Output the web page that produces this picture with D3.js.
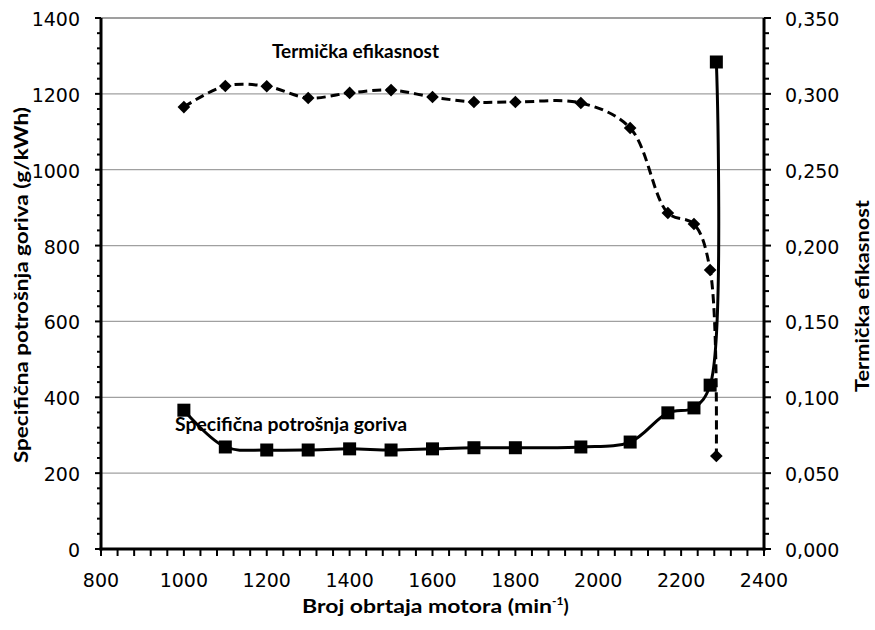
<!DOCTYPE html>
<html>
<head>
<meta charset="utf-8">
<script src="https://cdn.jsdelivr.net/npm/d3@7"></script>
<style>
  html, body { margin: 0; padding: 0; background: #fff; }
  svg { display: block; }
</style>
</head>
<body>
<svg id="chart" width="875" height="630"></svg>
<script>
// ---- data ----
const rpm = [1000, 1100, 1200, 1300, 1400, 1500, 1600, 1700, 1800, 1958, 2077, 2168, 2231, 2270, 2285];
const fuelConsumption = [366, 269, 261, 261, 264, 261, 264, 267, 267, 269, 282, 359, 372, 432, 1284];
const thermalEfficiency = [0.2913, 0.3052, 0.3050, 0.2973, 0.3006, 0.3025, 0.2979, 0.2946, 0.2946, 0.2940, 0.2775, 0.2215, 0.2142, 0.1839, 0.0613];
const xTicks = [800, 1000, 1200, 1400, 1600, 1800, 2000, 2200, 2400];
const yLeftTicks = [0, 200, 400, 600, 800, 1000, 1200, 1400];
const yRightTicks = [0, 0.05, 0.10, 0.15, 0.20, 0.25, 0.30, 0.35];
const xTitle = "Broj obrtaja motora (min";
const yLeftTitle = "Specifična potrošnja goriva (g/kWh)";
const yRightTitle = "Termička efikasnost";
const fuelLabel = "Specifična potrošnja goriva";
const thermalLabel = "Termička efikasnost";

// ---- layout ----
const L = 101, R = 764, T = 18, B = 549;
const svg = d3.select("#chart");
const x = d3.scaleLinear().domain([800, 2400]).range([L, R]);
const yL = d3.scaleLinear().domain([0, 1400]).range([B, T]);
const yR = d3.scaleLinear().domain([0, 0.35]).range([B, T]);

const tickFont = "'DejaVu Sans', Verdana, sans-serif";
const titleFont = "Lato, 'Open Sans', sans-serif";

// gridlines
svg.append("g").selectAll("line").data(yLeftTicks.filter(d => d > 0)).join("line")
  .attr("x1", L).attr("x2", R)
  .attr("y1", d => yL(d)).attr("y2", d => yL(d))
  .attr("stroke", d => d === 1400 ? "#404040" : "#a0a0a0")
  .attr("stroke-width", 1.2);

// minor ticks
const leftMinor = d3.range(0, 1401, 40);
svg.append("g").selectAll("line").data(leftMinor).join("line")
  .attr("x1", d => (d % 200 === 0) ? L - 6 : L - 4).attr("x2", L)
  .attr("y1", d => yL(d)).attr("y2", d => yL(d))
  .attr("stroke", "#000").attr("stroke-width", 2);
const rightMinor = d3.range(0, 36).map(i => i / 100);
svg.append("g").selectAll("line").data(rightMinor).join("line")
  .attr("x1", R).attr("x2", (d, i) => (i % 5 === 0) ? R + 7 : R + 5)
  .attr("y1", d => yR(d)).attr("y2", d => yR(d))
  .attr("stroke", "#000").attr("stroke-width", 2);
const xMinor = d3.range(800, 2401, 40);
svg.append("g").selectAll("line").data(xMinor).join("line")
  .attr("x1", d => x(d)).attr("x2", d => x(d))
  .attr("y1", B).attr("y2", B + 7)
  .attr("stroke", "#000").attr("stroke-width", 2);

// axis lines
svg.append("line").attr("x1", L).attr("x2", L).attr("y1", T).attr("y2", B + 1.5)
  .attr("stroke", "#000").attr("stroke-width", 3);
svg.append("line").attr("x1", R).attr("x2", R).attr("y1", T).attr("y2", B + 1.5)
  .attr("stroke", "#000").attr("stroke-width", 3);
svg.append("line").attr("x1", L - 1.5).attr("x2", R + 1.5).attr("y1", B).attr("y2", B)
  .attr("stroke", "#000").attr("stroke-width", 3);

// tick labels
svg.append("g").selectAll("text").data(yLeftTicks).join("text")
  .attr("x", 80).attr("y", d => yL(d) + 8)
  .attr("text-anchor", "end")
  .style("font-family", tickFont).style("font-size", "19px").attr("fill", "#000")
  .text(d => d);
svg.append("g").selectAll("text").data(yRightTicks).join("text")
  .attr("x", 785).attr("y", d => yR(d) + 8)
  .attr("text-anchor", "start")
  .style("font-family", tickFont).style("font-size", "19px").attr("fill", "#000")
  .text(d => d.toFixed(3).replace(".", ","));
svg.append("g").selectAll("text").data(xTicks).join("text")
  .attr("x", d => x(d)).attr("y", 587)
  .attr("text-anchor", "middle")
  .style("font-family", tickFont).style("font-size", "19px").attr("fill", "#000")
  .text(d => d);

// axis titles
const xt = svg.append("text")
  .attr("x", 302).attr("y", 613)
  .attr("text-anchor", "start")
  .style("font-family", titleFont).style("font-weight", "bold").style("font-size", "19px");
xt.append("tspan").attr("textLength", 250).attr("lengthAdjust", "spacingAndGlyphs").text(xTitle);
xt.append("tspan").attr("dy", -8).style("font-size", "12px").text("-1");
xt.append("tspan").attr("dy", 8).text(")");

svg.append("text")
  .attr("transform", "translate(28,285) rotate(-90)")
  .attr("text-anchor", "middle")
  .attr("textLength", 356).attr("lengthAdjust", "spacingAndGlyphs")
  .style("font-family", titleFont).style("font-weight", "bold").style("font-size", "19px")
  .text(yLeftTitle);

svg.append("text")
  .attr("transform", "translate(869,296) rotate(-90)")
  .attr("text-anchor", "middle")
  .attr("textLength", 192).attr("lengthAdjust", "spacingAndGlyphs")
  .style("font-family", titleFont).style("font-weight", "bold").style("font-size", "19px")
  .text(yRightTitle);

// ---- series ----
const curve = d3.curveCatmullRom.alpha(0.5);
const fuelPts = rpm.map((r, i) => [x(r), yL(fuelConsumption[i])]);
const thermPts = rpm.map((r, i) => [x(r), yR(thermalEfficiency[i])]);
const line = d3.line().curve(curve);

svg.append("path").attr("d", line(fuelPts))
  .attr("fill", "none").attr("stroke", "#000").attr("stroke-width", 3);
svg.append("path").attr("d", line(thermPts))
  .attr("fill", "none").attr("stroke", "#000").attr("stroke-width", 3)
  .attr("stroke-dasharray", "9,5");

svg.append("g").selectAll("rect").data(fuelPts).join("rect")
  .attr("x", d => d[0] - 6.5).attr("y", d => d[1] - 6.5)
  .attr("width", 13).attr("height", 13).attr("fill", "#000");
const diamond = d3.symbol().type(d3.symbolSquare).size(80);
svg.append("g").selectAll("path").data(thermPts).join("path")
  .attr("transform", d => `translate(${d[0]},${d[1]}) rotate(45)`)
  .attr("d", diamond()).attr("fill", "#000");

// inline labels
svg.append("text")
  .attr("x", 272).attr("y", 58)
  .attr("textLength", 167).attr("lengthAdjust", "spacingAndGlyphs")
  .style("font-family", titleFont).style("font-weight", "bold").style("font-size", "18px")
  .text(thermalLabel);
svg.append("text")
  .attr("x", 175).attr("y", 431)
  .attr("textLength", 232).attr("lengthAdjust", "spacingAndGlyphs")
  .style("font-family", titleFont).style("font-weight", "bold").style("font-size", "19px")
  .text(fuelLabel);
</script>
</body>
</html>
